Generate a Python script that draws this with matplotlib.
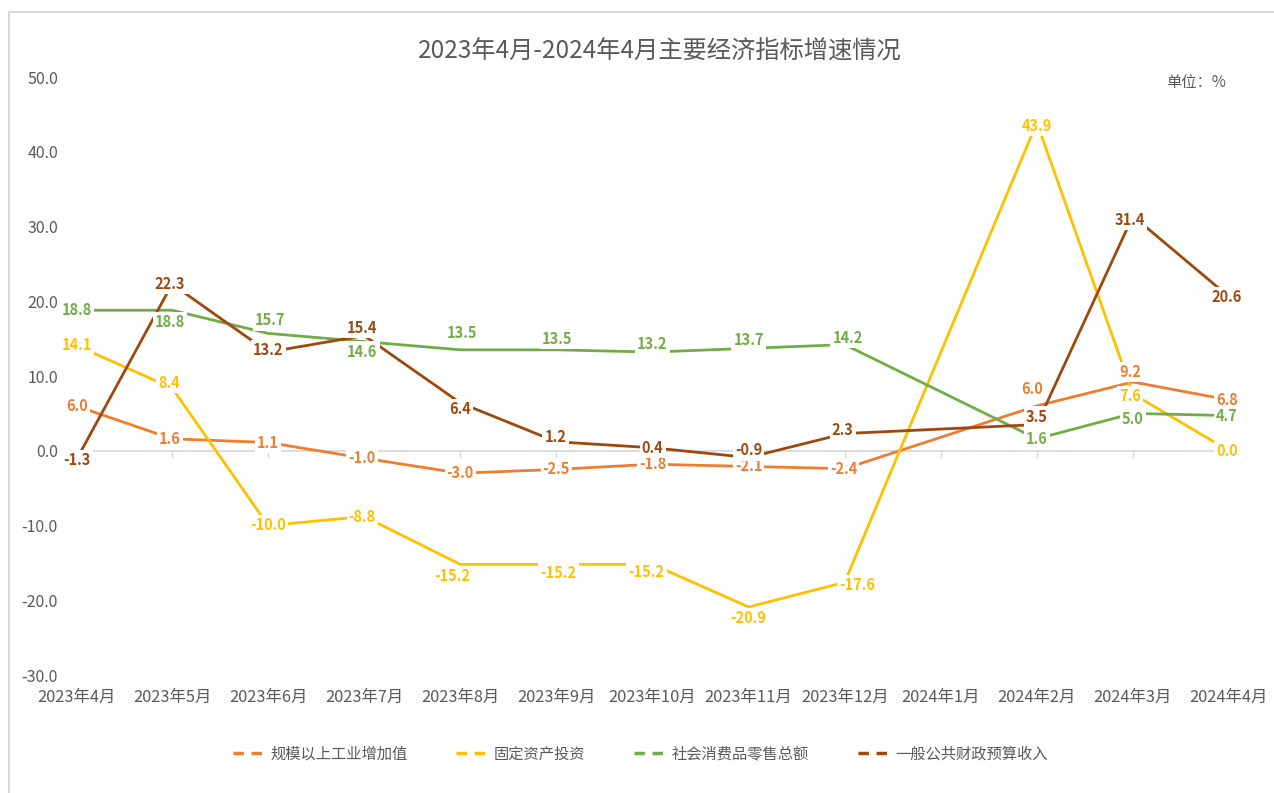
import numpy as np
import matplotlib
matplotlib.use("Agg")
import matplotlib.pyplot as plt
from matplotlib.lines import Line2D

plt.rcParams["font.family"] = ["Noto Sans CJK SC", "DejaVu Sans"]

months = ["2023年4月", "2023年5月", "2023年6月", "2023年7月", "2023年8月",
          "2023年9月", "2023年10月", "2023年11月", "2023年12月", "2024年1月",
          "2024年2月", "2024年3月", "2024年4月"]

industry = [6.0, 1.6, 1.1, -1.0, -3.0, -2.5, -1.8, -2.1, -2.4, None, 6.0, 9.2, 6.8]
investment = [14.1, 8.4, -10.0, -8.8, -15.2, -15.2, -15.2, -20.9, -17.6, None, 43.9, 7.6, 0.0]
retail = [18.8, 18.8, 15.7, 14.6, 13.5, 13.5, 13.2, 13.7, 14.2, None, 1.6, 5.0, 4.7]
revenue = [-1.3, 22.3, 13.2, 15.4, 6.4, 1.2, 0.4, -0.9, 2.3, None, 3.5, 31.4, 20.6]

names = ["规模以上工业增加值", "固定资产投资", "社会消费品零售总额", "一般公共财政预算收入"]
colors = ["#ED7D31", "#FFC000", "#70AD47", "#9E480E"]

# label offsets in pixels (dx, dy), one per point
offsets = [
    [(1, 0), (-2, 0), (0, 0), (-2, 0), (0, 0), (0, 0), (0, 0), (0, 0), (-1, 0),
     None, (-5, 17), (-3, 10), (-2, 0)],
    [(1, 0), (-3, 5), (0, 0), (-2, 0), (-8, -12), (2, -9), (-6, -8), (0, -11), (13, -3),
     None, (0, -3), (-3, -2), (-2, 0)],
    [(1, 0), (-2, -12), (2, 13), (-2, -10), (2, 17), (1, 11), (0, 8), (0, 8), (3, 7),
     None, (0, 0), (0, -6), (-2, 0)],
    [(1, 0), (-2, 0), (0, 2), (-2, 8), (0, -6), (-1, 5), (0, 0), (0, 7), (-2, 4),
     None, (0, 8), (-3, -4), (-2, 0)],
]

gray = "#595959"
light = "#D9D9D9"

fig = plt.figure(figsize=(12.74, 7.93), dpi=100)
ax = fig.add_axes([76 / 1274, 1 - 675 / 793, (1229 - 76) / 1274, 598 / 793])

x = np.arange(len(months))
series = [industry, investment, retail, revenue]
for vals, name, color, offs in zip(series, names, colors, offsets):
    xs = [i for i, v in enumerate(vals) if v is not None]
    ys = [v for v in vals if v is not None]
    ax.plot(xs, ys, color=color, lw=2.0, zorder=3, solid_capstyle="butt")
    for i, v in zip(xs, ys):
        dx, dy = offs[i]
        ax.annotate(f"{v:.1f}", (i, v), xytext=(dx, dy), textcoords="offset pixels",
                    ha="center", va="center", fontsize=10.5, fontweight="bold",
                    color=color, zorder=5, annotation_clip=False,
                    bbox=dict(boxstyle="square,pad=0.15", fc="white", ec="none"))

ax.set_xlim(0, len(months) - 1)
ax.set_ylim(-30, 50)
ax.set_yticks(np.arange(-30, 51, 10))
ax.set_yticklabels([f"{t:.1f}" for t in np.arange(-30, 51, 10)])
ax.tick_params(axis="y", length=0, pad=13, labelsize=11.5, labelcolor=gray)

for s in ["left", "right", "top"]:
    ax.spines[s].set_visible(False)
ax.spines["bottom"].set_position(("data", 0))
ax.spines["bottom"].set_color(light)
ax.spines["bottom"].set_linewidth(1.3)
ax.spines["bottom"].set_zorder(2)
ax.set_xticks(x)
ax.tick_params(axis="x", length=5, color=light, width=1.0, labelbottom=False)

sec = ax.secondary_xaxis("bottom")
sec.set_xticks(x)
sec.set_xticklabels(months)
sec.tick_params(length=0, pad=10, labelsize=11.8, labelcolor=gray)
sec.spines["bottom"].set_visible(False)

fig.text(660 / 1274, 1 - 52 / 793, "2023年4月-2024年4月主要经济指标增速情况",
         ha="center", va="center", fontsize=17.5, color=gray)
fig.text(1226 / 1274, 1 - 83 / 793, "单位：%", ha="right", va="center",
         fontsize=11, color=gray)

handles = [Line2D([], [], color=c, lw=2.5, linestyle=(0, (3, 2.2))) for c in colors]
fig.legend(handles, names, loc="center", bbox_to_anchor=(640 / 1274, 1 - 754 / 793),
           ncol=4, frameon=False, fontsize=11, labelcolor=gray,
           handlelength=2.0, handletextpad=0.45, columnspacing=3.2)

# chart area border (left and top edges visible)
fig.add_artist(Line2D([9 / 1274, 9 / 1274], [0, 1 - 12 / 793], color=light, lw=1.5,
                      transform=fig.transFigure))
fig.add_artist(Line2D([9 / 1274, 1], [1 - 12 / 793, 1 - 12 / 793], color=light, lw=1.5,
                      transform=fig.transFigure))

fig.savefig("out.png", dpi=100)
